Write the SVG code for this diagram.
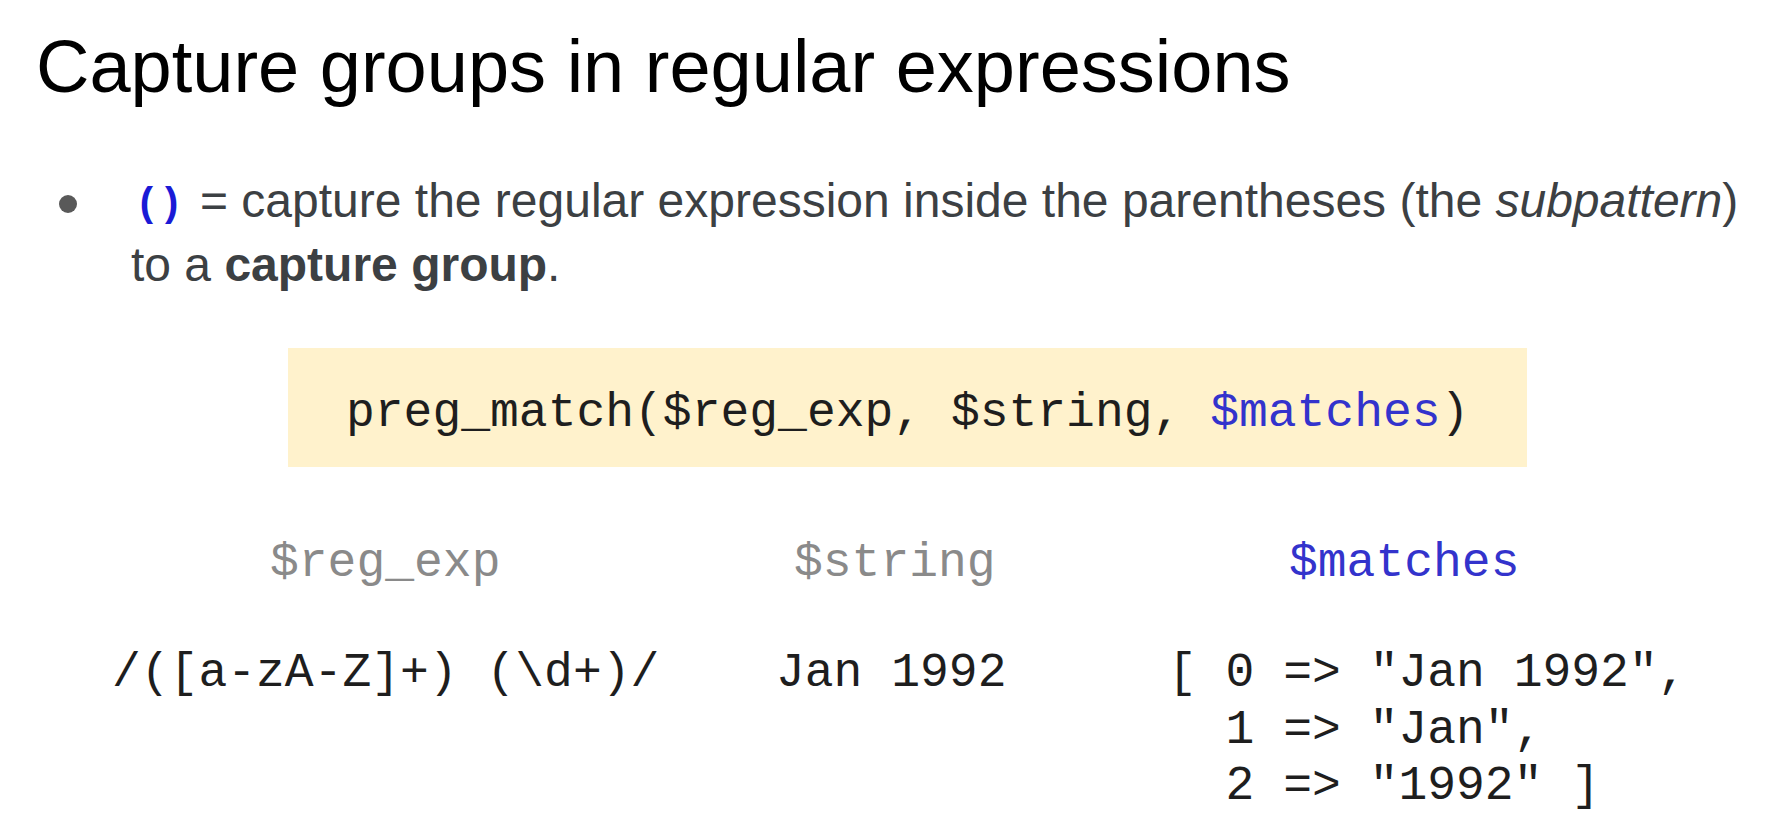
<svg xmlns="http://www.w3.org/2000/svg" width="1775" height="826" viewBox="0 0 1775 826">
<style>
.title{font-family:"Liberation Sans",Arial,sans-serif;font-size:74px;fill:#000}
.body{font-family:"Liberation Sans",Arial,sans-serif;font-size:48px;fill:#3c4043}
.mono{font-family:"Liberation Mono","Courier New",monospace;font-size:48px;fill:#1e1e1e}
.label{fill:#8a8a8a}
.blue{fill:#3333cc}
</style>
<rect width="1775" height="826" fill="#ffffff"/>
<g id="title">
<text class="title" x="36" y="92">Capture groups in regular expressions</text>
</g>
<g id="bullet">
<circle cx="68" cy="204" r="9" fill="#595959"/>
<text x="135" y="216" style="font-family:'Liberation Mono','Courier New',monospace;font-size:40px;font-weight:bold;fill:#1a1ad6">()</text>
<text class="body" x="200" y="217">= capture the regular expression inside the parentheses (the <tspan font-style="italic">subpattern</tspan>)</text>
<text class="body" x="131" y="281">to a <tspan font-weight="bold">capture group</tspan>.</text>
</g>
<g id="call-box">
<rect x="288" y="348" width="1239" height="119" fill="#fff2cc"/>
<text class="mono" x="346" y="426">preg_match($reg_exp, $string, <tspan class="blue">$matches</tspan>)</text>
</g>
<g id="col-reg-exp">
<text class="mono label" x="270" y="576">$reg_exp</text>
<text class="mono" x="112" y="686">/([a-zA-Z]+) (\d+)/</text>
</g>
<g id="col-string">
<text class="mono label" x="794" y="576">$string</text>
<text class="mono" x="776" y="686">Jan 1992</text>
</g>
<g id="col-matches">
<text class="mono blue" x="1289" y="576">$matches</text>
<text class="mono" x="1168" y="686">[ 0 =&gt; "Jan 1992",</text>
<text class="mono" x="1225.6" y="743">1 =&gt; "Jan",</text>
<text class="mono" x="1225.6" y="799">2 =&gt; "1992" ]</text>
</g>
<g id="connectors"/>
</svg>
